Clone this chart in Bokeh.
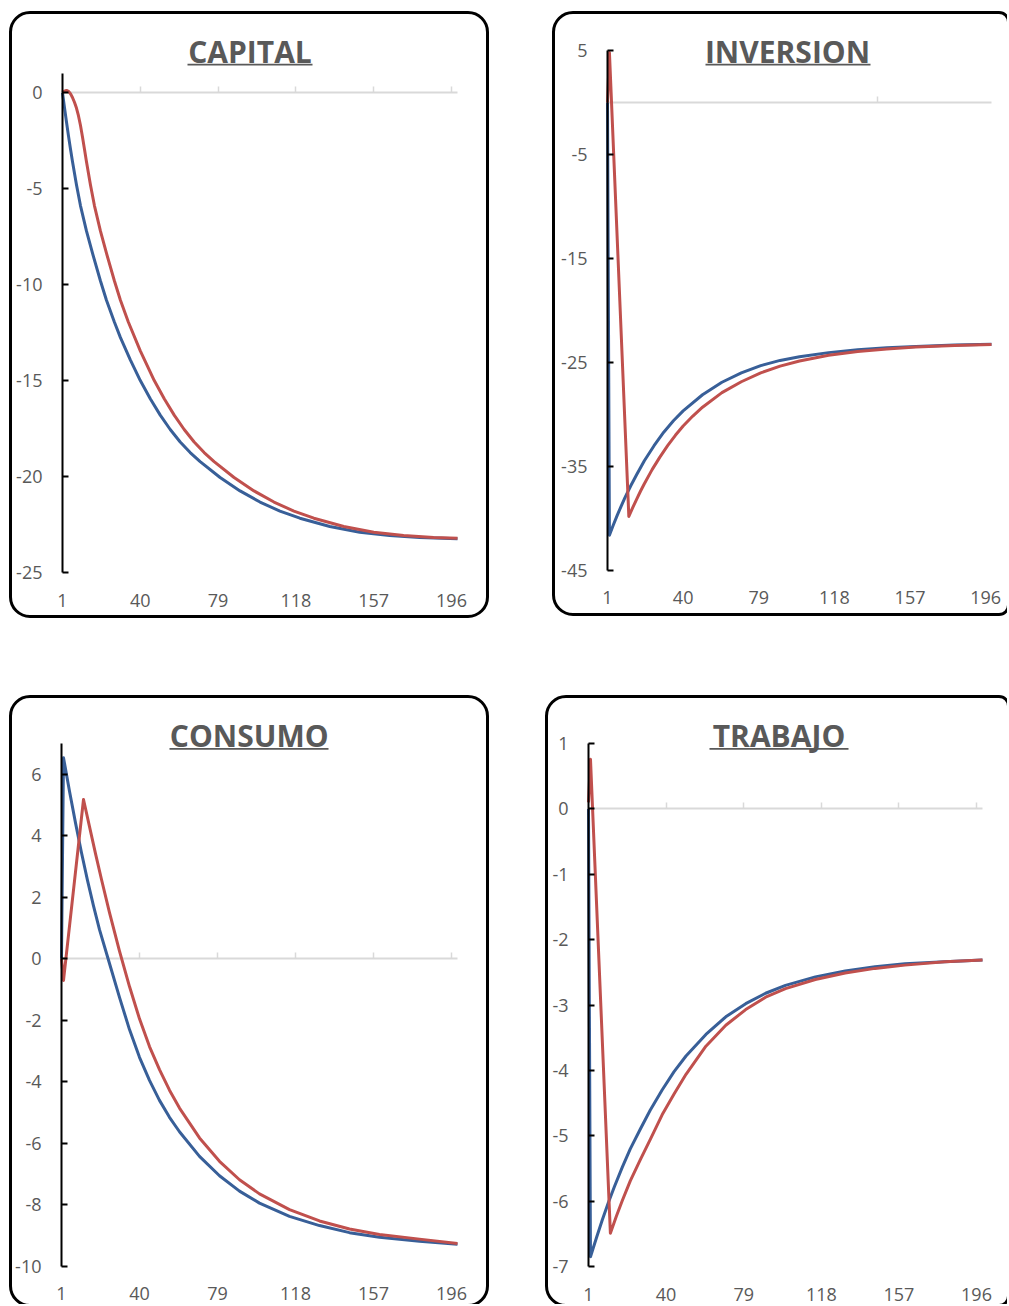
from bokeh.plotting import figure
from bokeh.models import Range1d, LinearAxis, FixedTicker, Label, BoxAnnotation, Spacer
from bokeh.layouts import row, column
from bokeh.embed import file_html
from bokeh.resources import INLINE

# ---------------- data ----------------
X_FIRST, X_LAST = 1, 199
X_LABEL_TICKS = [1, 40, 79, 118, 157, 196]
X_MARK_TICKS = [40, 79, 118, 157, 196]
X_MARK_TICKS_INV = [140]

# CAPITAL
T_CAPITAL_BLUE = [1, 2, 3, 4, 5, 6, 8, 10, 13, 16, 20, 23, 27, 30, 35, 40, 45, 50, 55, 60, 65, 70,
                  80, 90, 100, 110, 120, 135, 150, 165, 180, 199]
CAPITAL_BLUE = [0, -0.78, -1.53, -2.25, -2.93, -3.58, -4.8, -5.88, -7.2, -8.35, -9.8, -10.8, -11.95,
                -12.75, -13.92, -15.0, -15.95, -16.8, -17.55, -18.2, -18.75, -19.22, -20.05, -20.75,
                -21.33, -21.8, -22.17, -22.6, -22.9, -23.07, -23.17, -23.24]
T_CAPITAL_RED = [1, 2, 3, 4, 5, 6, 7, 8, 9, 10, 11, 12, 13, 15, 17, 20, 23, 27, 30, 34, 40, 47, 52,
                 57, 62, 67, 72, 77, 87, 97, 107, 117, 127, 142, 157, 172, 187, 199]
CAPITAL_RED = [0, 0.08, 0.12, 0.07, -0.05, -0.25, -0.5, -0.8, -1.2, -1.7, -2.3, -2.93, -3.58, -4.8,
               -5.88, -7.2, -8.35, -9.8, -10.8, -11.95, -13.45, -15.0, -15.95, -16.8, -17.55, -18.2,
               -18.75, -19.22, -20.05, -20.75, -21.33, -21.8, -22.17, -22.6, -22.9, -23.07, -23.17,
               -23.22]

# INVERSION
T_INVERSION_BLUE = [1, 2, 4, 6, 8, 10, 13, 16, 20, 25, 30, 35, 40, 50, 60, 70, 80, 90, 100, 115,
                    130, 145, 160, 180, 199]
INVERSION_BLUE = [0, -41.6, -40.63, -39.7, -38.83, -38.0, -36.85, -35.8, -34.45, -33.0, -31.7,
                  -30.6, -29.65, -28.1, -26.9, -26.0, -25.3, -24.8, -24.45, -24.05, -23.78, -23.58,
                  -23.45, -23.32, -23.25]
T_INVERSION_RED = [1, 2, 12, 14, 16, 18, 20, 24, 28, 32, 36, 40, 45, 50, 60, 70, 80, 90, 100, 115,
                   130, 145, 160, 180, 199]
INVERSION_RED = [0, 4.8, -39.8, -38.95, -38.15, -37.38, -36.66, -35.3, -34.1, -33.0, -32.0, -31.1,
                 -30.15, -29.3, -27.9, -26.85, -26.0, -25.35, -24.85, -24.3, -23.95, -23.7, -23.52,
                 -23.37, -23.27]

# CONSUMO
T_CONSUMO_BLUE = [1, 2, 5, 8, 11, 14, 17, 20, 25, 30, 35, 40, 45, 50, 55, 60, 70, 80, 90, 100, 115,
                  130, 145, 160, 180, 199]
CONSUMO_BLUE = [0, 6.54, 5.45, 4.42, 3.45, 2.55, 1.72, 0.95, -0.15, -1.25, -2.3, -3.2, -3.95, -4.6,
                -5.15, -5.62, -6.42, -7.05, -7.55, -7.94, -8.37, -8.67, -8.9, -9.05, -9.18, -9.28]
T_CONSUMO_RED = [1, 2, 12, 15, 18, 21, 25, 30, 35, 40, 45, 50, 55, 60, 70, 80, 90, 100, 115, 130,
                 145, 160, 180, 199]
CONSUMO_RED = [0, -0.7, 5.18, 4.3, 3.42, 2.58, 1.5, 0.25, -0.9, -1.95, -2.85, -3.6, -4.27, -4.85,
               -5.82, -6.58, -7.18, -7.64, -8.15, -8.52, -8.78, -8.96, -9.11, -9.25]

# TRABAJO
T_TRABAJO_BLUE = [1, 2, 5, 8, 11, 14, 18, 22, 27, 32, 38, 44, 50, 60, 70, 80, 90, 100, 115, 130,
                  145, 160, 180, 199]
TRABAJO_BLUE = [0, -6.85, -6.56, -6.28, -6.02, -5.78, -5.48, -5.2, -4.9, -4.61, -4.3, -4.02, -3.78,
                -3.45, -3.18, -2.98, -2.82, -2.7, -2.57, -2.48, -2.415, -2.37, -2.34, -2.31]
T_TRABAJO_RED = [1, 2, 12, 15, 18, 22, 27, 32, 38, 44, 50, 60, 70, 80, 90, 100, 115, 130, 145, 160,
                 180, 199]
TRABAJO_RED = [0.1, 0.76, -6.49, -6.23, -5.99, -5.69, -5.37, -5.06, -4.68, -4.36, -4.06, -3.63,
               -3.31, -3.07, -2.88, -2.75, -2.61, -2.51, -2.44, -2.39, -2.34, -2.31]

Y_TICKS_CAPITAL = [-25, -20, -15, -10, -5, 0]
Y_TICKS_INVERSION = [-45, -35, -25, -15, -5, 5]
Y_TICKS_CONSUMO = [-10, -8, -6, -4, -2, 0, 2, 4, 6]
Y_TICKS_TRABAJO = [-7, -6, -5, -4, -3, -2, -1, 0, 1]

# ---------------- styling / geometry (page pixels) ----------------
BLUE = "#385F98"
RED = "#C0504D"
TXT = "#595959"
AXIS_GRAY = "#D9D9D9"
FONT = "Open Sans"
EDGE = 1  # frame inset from the panel edge

PANELS = [
    dict(title="CAPITAL", tb=T_CAPITAL_BLUE, vb=CAPITAL_BLUE, tr=T_CAPITAL_RED, vr=CAPITAL_RED,
         yr=(-25, 1), yticks=Y_TICKS_CAPITAL, marks=X_MARK_TICKS,
         origin=(12, 14), size=(474, 601), ax=(62, 457), ay=(73, 572),
         tcx=249.5, tcy=51, ul=(187, 312, 63.2, 65.0), xstand=21,
         styles={"outline": "3px solid #000", "border-radius": "18px"}),
    dict(title="INVERSION", tb=T_INVERSION_BLUE, vb=INVERSION_BLUE, tr=T_INVERSION_RED, vr=INVERSION_RED,
         yr=(-45, 5), yticks=Y_TICKS_INVERSION, marks=X_MARK_TICKS_INV,
         origin=(555, 14), size=(452, 599), ax=(607, 991), ay=(50, 570),
         tcx=787, tcy=51, ul=(705, 870, 63.2, 65.0), xstand=20,
         styles={"outline": "3px solid #000", "border-radius": "18px 8px 8px 18px",
                 "clip-path": "inset(-4px 0px -4px -4px)"}),
    dict(title="CONSUMO", tb=T_CONSUMO_BLUE, vb=CONSUMO_BLUE, tr=T_CONSUMO_RED, vr=CONSUMO_RED,
         yr=(-10, 7), yticks=Y_TICKS_CONSUMO, marks=X_MARK_TICKS,
         origin=(12, 698), size=(474, 606), ax=(61, 457), ay=(743, 1266),
         tcx=248.7, tcy=735, ul=(169, 328, 747.4, 749.2), xstand=20,
         styles={"outline": "3px solid #000", "border-radius": "18px",
                 "clip-path": "inset(-4px -4px 0px -4px)"}),
    dict(title="TRABAJO", tb=T_TRABAJO_BLUE, vb=TRABAJO_BLUE, tr=T_TRABAJO_RED, vr=TRABAJO_RED,
         yr=(-7, 1), yticks=Y_TICKS_TRABAJO, marks=X_MARK_TICKS,
         origin=(548, 698), size=(459, 606), ax=(588, 982), ay=(743, 1266),
         tcx=778.5, tcy=734.5, ul=(709, 848, 747.4, 749.2), xstand=21,
         styles={"outline": "3px solid #000", "border-radius": "18px 8px 8px 18px",
                 "clip-path": "inset(-4px 0px 0px -4px)"}),
]


def make_panel(c):
    ox, oy = c["origin"]
    W, H = c["size"]
    ax0, ax1 = c["ax"]          # page x of first / last category
    ay_top, ay_bot = c["ay"]    # page y of value-axis max / min
    y0, y1 = c["yr"]
    ppx = (ax1 - ax0) / (X_LAST - X_FIRST)
    ppu = (ay_bot - ay_top) / (y1 - y0)
    fl, fr = ox + EDGE, ox + W - EDGE
    ft, fb = oy + EDGE, oy + H - EDGE
    x_start = X_FIRST - (ax0 - fl) / ppx
    x_end = X_LAST + (fr - ax1) / ppx
    y_end = y1 + (ay_top - ft) / ppu
    y_start = y0 - (fb - ay_bot) / ppu

    def px2x(px):
        return X_FIRST + (px - ax0) / ppx

    def py2y(py):
        return y0 + (ay_bot - py) / ppu

    p = figure(width=W, height=H, x_range=Range1d(x_start, x_end), y_range=Range1d(y_start, y_end),
               x_axis_type=None, y_axis_type=None, toolbar_location=None,
               output_backend="svg", min_border_left=EDGE, min_border_right=EDGE,
               min_border_top=EDGE, min_border_bottom=EDGE)
    p.outline_line_color = None
    p.background_fill_color = None
    p.border_fill_color = None
    p.styles = c["styles"]

    # zero line with small tick marks
    xg = LinearAxis(fixed_location=0, bounds=(X_FIRST, X_LAST), ticker=FixedTicker(ticks=c["marks"]),
                    major_label_overrides={t: "" for t in c["marks"]})
    xg.axis_line_color = AXIS_GRAY
    xg.axis_line_width = 2
    xg.major_tick_in = 6
    xg.major_tick_out = 0
    xg.major_tick_line_color = AXIS_GRAY
    xg.major_tick_line_width = 1.5
    xg.minor_tick_line_color = None
    xg.major_label_text_alpha = 0
    xg.level = "underlay"
    p.add_layout(xg, "below")

    # category labels under the value-axis minimum
    xl = LinearAxis(fixed_location=y0, ticker=FixedTicker(ticks=X_LABEL_TICKS),
                    major_label_overrides={t: str(t) for t in X_LABEL_TICKS})
    xl.axis_line_color = None
    xl.major_tick_line_color = None
    xl.minor_tick_line_color = None
    xl.major_tick_in = 0
    xl.major_tick_out = 0
    xl.major_label_standoff = c["xstand"]
    xl.major_label_text_font = FONT
    xl.major_label_text_font_size = "18px"
    xl.major_label_text_color = TXT
    p.add_layout(xl, "below")

    # value axis at the first category
    ya = LinearAxis(fixed_location=X_FIRST, bounds=(y0, y1), ticker=FixedTicker(ticks=c["yticks"]),
                    major_label_overrides={t: str(t) for t in c["yticks"]})
    ya.axis_line_color = "black"
    ya.axis_line_width = 2
    ya.major_tick_in = 6
    ya.major_tick_out = 0
    ya.major_tick_line_color = "black"
    ya.major_tick_line_width = 2
    ya.minor_tick_line_color = None
    ya.major_label_standoff = 20
    ya.major_label_text_font = FONT
    ya.major_label_text_font_size = "18px"
    ya.major_label_text_color = TXT
    p.add_layout(ya, "left")

    p.line(c["tb"], c["vb"], line_color=BLUE, line_width=3, line_join="round")
    p.line(c["tr"], c["vr"], line_color=RED, line_width=3, line_join="round")

    p.add_layout(Label(x=px2x(c["tcx"]), y=py2y(c["tcy"]), text=c["title"],
                       text_align="center", text_baseline="middle", text_font=FONT,
                       text_font_size="30px", text_font_style="bold", text_color=TXT))
    ul0, ul1, ult, ulb = c["ul"]
    p.add_layout(BoxAnnotation(left=px2x(ul0), right=px2x(ul1), top=py2y(ult), bottom=py2y(ulb),
                               fill_color=TXT, fill_alpha=1.0, line_color=None))
    return p


tl, tr, bl, br = [make_panel(c) for c in PANELS]

layout = column(
    Spacer(height=14),
    row(Spacer(width=12), tl, Spacer(width=69), tr),
    Spacer(height=83),
    row(Spacer(width=12), bl, Spacer(width=62), br),
)

open("out.html", "w").write(file_html(layout, INLINE))
